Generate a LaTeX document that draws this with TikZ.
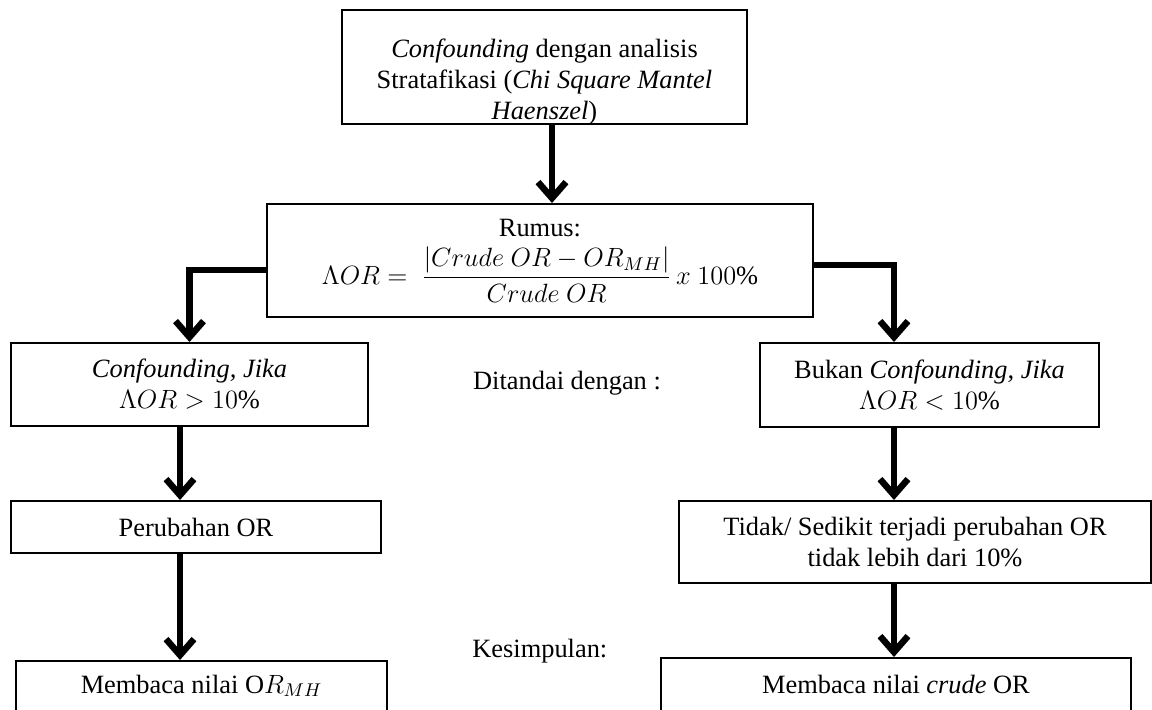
\RequirePackage{fix-cm}
\documentclass[tikz,border=0pt]{standalone}
\usepackage{amsmath}
\usepackage{fontspec}
\setmainfont{Liberation Serif}
\usetikzlibrary{arrows.meta}
\begin{document}
\begin{tikzpicture}[x=0.5pt,y=-0.5pt,
  box/.style={draw, line width=1pt, inner sep=0pt, align=center, font=\fontsize{13.2pt}{15.5pt}\selectfont},
  txt/.style={inner sep=0pt, align=center, font=\fontsize{13.2pt}{15.5pt}\selectfont},
  arr/.style={line width=3.25pt, -{Straight Barb[length=8pt,width=14pt]}}]
\useasboundingbox (0,0) rectangle (1152,709);
\clip (0,0) rectangle (1152,709);
\coordinate (cx) at (552,0);
\coordinate (lx) at (180,0);
\coordinate (rx) at (894,0);
% boxes
\node[box, minimum width=202.5pt, minimum height=57pt] (top) at (544.5,67) {};
\node[txt] (toptext) at (544.5,82) {\textit{Confounding} dengan analisis\\ Stratafikasi (\textit{Chi Square Mantel}\\ \textit{Haenszel})};
\node[box, minimum width=273pt, minimum height=56.5pt] (formula) at (540,260.5)
  {Rumus:\\[4pt] $\Lambda OR =\ \dfrac{|Crude\ OR - OR_{MH}|}{Crude\ OR}\,x\ 100\%$};
\node[box, minimum width=178.5pt, minimum height=41.5pt] (L1) at (189.5,384.5)
  {\textit{Confounding, Jika}\\ $\Lambda OR > 10\%$};
\node[box, minimum width=169.5pt, minimum height=42pt] (R1) at (929.5,385)
  {Bukan \textit{Confounding, Jika}\\ $\Lambda OR < 10\%$};
\node[box, minimum width=185pt, minimum height=26pt] (L2) at (196,527) {Perubahan OR};
\node[box, minimum width=236pt, minimum height=41pt] (R2) at (915,542)
  {Tidak/ Sedikit terjadi perubahan OR\\ tidak lebih dari 10\%};
\node[box, anchor=north, minimum width=185.5pt, text height=16pt, text depth=30pt] (L3) at (201.5,660)
  {Membaca nilai O$R_{MH}$};
\node[box, anchor=north, minimum width=235pt, text height=17.5pt, text depth=30pt] (R3) at (896,657)
  {Membaca nilai \textit{crude} OR};
% free labels
\node[txt] (dit) at (567,383) {Ditandai dengan :};
\node[txt, anchor=west] (kes) at (472,651) {Kesimpulan:};
% connectors
\draw[arr] (top.south -| cx) -- (formula.north -| cx);
\draw[arr] ([yshift=-4.75pt]formula.west) -| (L1.north);
\draw[arr] ([yshift=-2.25pt]formula.east) -| (R1.north -| rx);
\draw[arr] (L1.south -| lx) -- (L2.north -| lx);
\draw[arr] (L2.south -| lx) -- (L3.north -| lx);
\draw[arr] (R1.south -| rx) -- (R2.north -| rx);
\draw[arr] (R2.south -| rx) -- (R3.north -| rx);
\end{tikzpicture}
\end{document}
